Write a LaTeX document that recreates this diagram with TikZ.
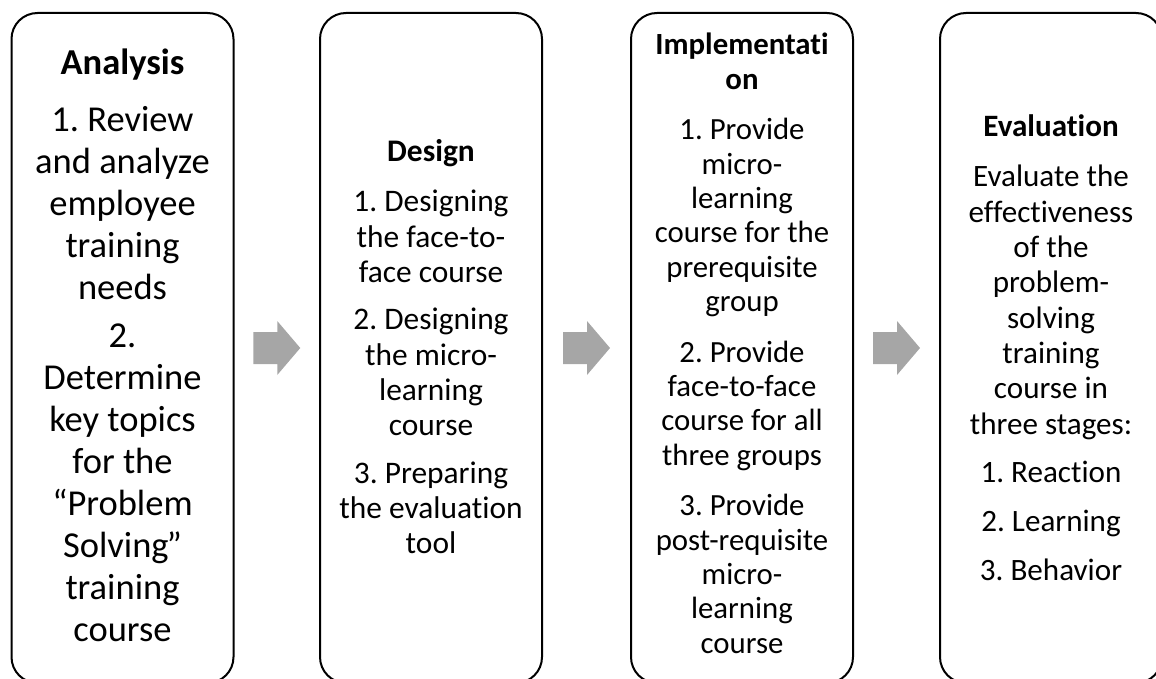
\documentclass[tikz,border=0pt]{standalone}
\usepackage{fontspec}
\setmainfont{Carlito}[Ligatures=NoCommon]
\usetikzlibrary{calc}
\definecolor{arrowgray}{HTML}{A6A6A6}
\frenchspacing
\begin{document}
\begin{tikzpicture}[x=1pt,y=-1pt,
  stagebox/.style={draw=black, line width=2pt, rounded corners=26pt, fill=white,
    minimum width=222pt, minimum height=670pt, inner sep=0pt},
  stagetext/.style={anchor=base, inner sep=0pt, text=black},
  flowarrow/.style={fill=arrowgray, draw=none}]
\useasboundingbox (0,0) rectangle (1156,679);

% the four stage boxes
\node[stagebox] (b1) at (122.5,348) {};
\node[stagebox] (b2) at (431,348) {};
\node[stagebox] (b3) at (742,348) {};
\node[stagebox] (b4) at (1051,348) {};

% stage texts (first baseline placed at the node coordinate)
\node[stagetext, font=\fontsize{36.5}{42}\selectfont] (t1) at (122.5,75) {%
  \begin{tabular}[t]{@{}c@{}}
  \bfseries Analysis\\[15pt]
  1. Review\\ and analyze\\ employee\\ training\\ needs\\[6pt]
  2.\\ Determine\\ key topics\\ for the\\ “Problem\\ Solving\kern-2pt”\\ training\\ course
  \end{tabular}};

\node[stagetext, font=\fontsize{31.4}{35.3}\selectfont] (t2) at (431,162) {%
  \begin{tabular}[t]{@{}c@{}}
  \bfseries Design\\[14.7pt]
  1. Designing\\ the face-to-\\ face course\\[12.1pt]
  2. Designing\\ the micro-\\ learning\\ course\\[12.1pt]
  3. Preparing\\ the evaluation\\ tool
  \end{tabular}};

\node[stagetext, font=\fontsize{30.8}{34.4}\selectfont] (t3) at (742,55) {%
  \begin{tabular}[t]{@{}c@{}}
  \bfseries Implementati\\ \bfseries on\\[16pt]
  1. Provide\\ micro-\\ learning\\ course for the\\ prerequisite\\ group\\[16pt]
  2. Provide\\ face-to-face\\ course for all\\ three groups\\[16pt]
  3. Provide\\ post-requisite\\ micro-\\ learning\\ course
  \end{tabular}};

\node[stagetext, font=\fontsize{31.1}{35.3}\selectfont] (t4) at (1051,137) {%
  \begin{tabular}[t]{@{}c@{}}
  \bfseries Evaluation\\[14.7pt]
  Evaluate the\\ effectiveness\\ of the\\ problem-\\ solving\\ training\\ course in\\ three stages:\\[13.5pt]
  1. Reaction\\[13.5pt]
  2. Learning\\[13.5pt]
  3. Behavior
  \end{tabular}};

% block arrows between consecutive stages
\fill[flowarrow] ($(b1.east)!.5!(b2.west)$) ++(-23.5,-16) -- ++(24,0) -- ++(0,-11)
  -- ++(23,27) -- ++(-23,27) -- ++(0,-11) -- ++(-24,0) -- cycle;
\fill[flowarrow] ($(b2.east)!.5!(b3.west)$) ++(-23.5,-16) -- ++(24,0) -- ++(0,-11)
  -- ++(23,27) -- ++(-23,27) -- ++(0,-11) -- ++(-24,0) -- cycle;
\fill[flowarrow] ($(b3.east)!.5!(b4.west)$) ++(-23.5,-16) -- ++(24,0) -- ++(0,-11)
  -- ++(23,27) -- ++(-23,27) -- ++(0,-11) -- ++(-24,0) -- cycle;
\end{tikzpicture}
\end{document}
